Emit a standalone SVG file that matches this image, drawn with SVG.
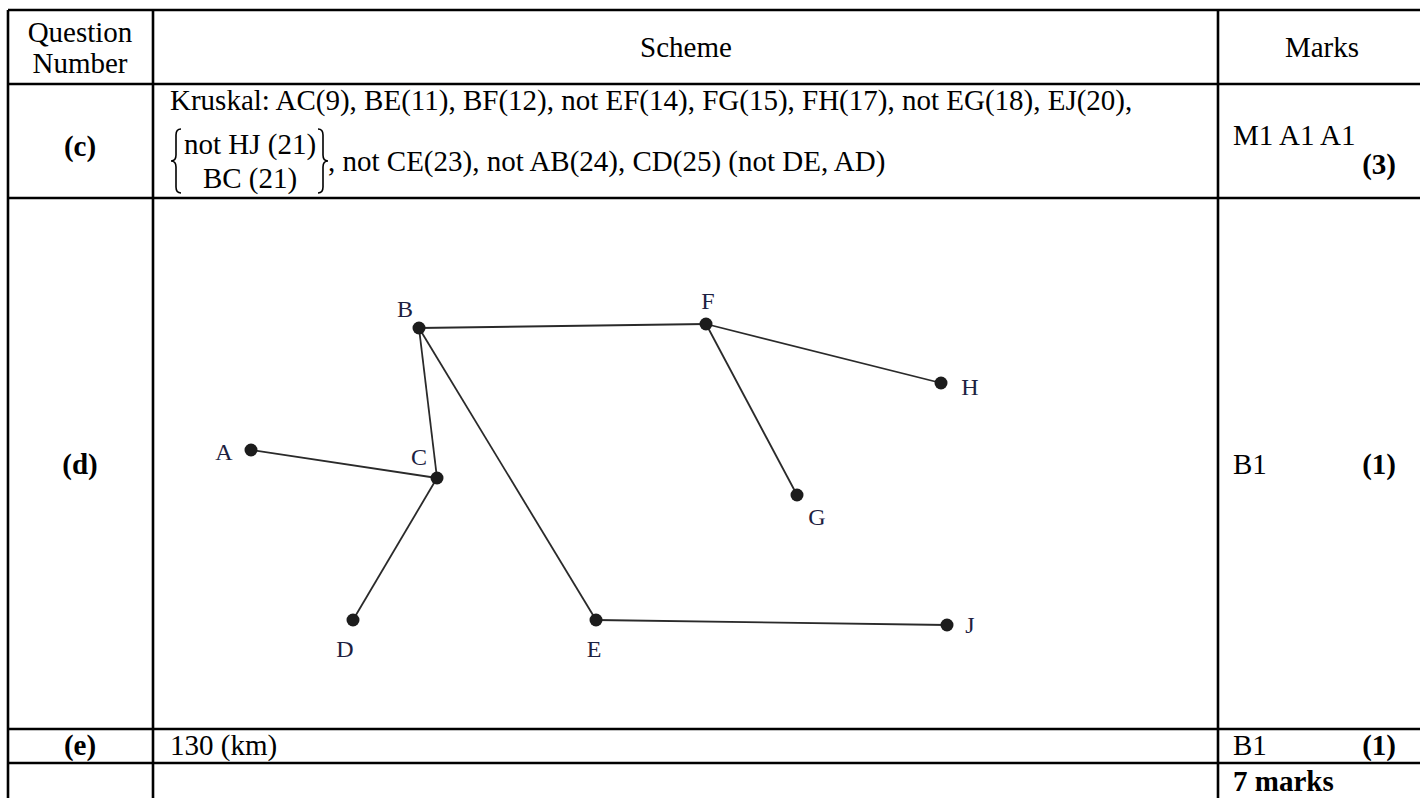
<svg xmlns="http://www.w3.org/2000/svg" width="1420" height="798" viewBox="0 0 1420 798">
<style>
.t{font-family:"Liberation Serif","Times New Roman",serif;font-size:29px;fill:#000}
.b{font-weight:bold}
.m{text-anchor:middle}
.r{text-anchor:end}
.grid{stroke:#000;stroke-width:2.6;fill:none}
.edge{stroke:#2a2a2a;stroke-width:1.8;fill:none}
.dot{fill:#1c1c1c}
.lbl{font-family:"Liberation Serif","Times New Roman",serif;font-size:24px;fill:#1d2140;text-anchor:middle}
.brace{stroke:#000;stroke-width:1.6;fill:none}
</style>
<rect width="1420" height="798" fill="#fff"/>
<g id="table">
<line class="grid" x1="8" y1="10" x2="1420" y2="10"/>
<line class="grid" x1="8" y1="84" x2="1420" y2="84"/>
<line class="grid" x1="8" y1="198" x2="1420" y2="198"/>
<line class="grid" x1="8" y1="729" x2="1420" y2="729"/>
<line class="grid" x1="8" y1="763" x2="1420" y2="763"/>
<line class="grid" x1="8" y1="10" x2="8" y2="798"/>
<line class="grid" x1="153" y1="10" x2="153" y2="798"/>
<line class="grid" x1="1218" y1="10" x2="1218" y2="798"/>
</g>
<g id="header">
<text class="t m" x="80" y="42">Question</text>
<text class="t m" x="80" y="73">Number</text>
<text class="t m" x="686" y="57">Scheme</text>
<text class="t m" x="1322" y="57">Marks</text>
</g>
<g id="row-c">
<text class="t b m" x="80" y="156">(c)</text>
<text class="t" x="170" y="110">Kruskal: AC(9), BE(11), BF(12), not EF(14), FG(15), FH(17), not EG(18), EJ(20),</text>
<path class="brace" d="M181,129 Q176,129 176,135 L176,155 Q176,161 171,161 Q176,161 176,167 L176,187 Q176,193 181,193"/>
<text class="t" x="184" y="154">not HJ (21)</text>
<text class="t m" x="250" y="188">BC (21)</text>
<path class="brace" d="M318,129 Q323,129 323,135 L323,155 Q323,161 328,161 Q323,161 323,167 L323,187 Q323,193 318,193"/>
<text class="t" x="328" y="171">, not CE(23), not AB(24), CD(25) (not DE, AD)</text>
<text class="t" x="1233" y="145">M1 A1 A1</text>
<text class="t b r" x="1396" y="174">(3)</text>
</g>
<g id="row-d">
<text class="t b m" x="80" y="474">(d)</text>
<text class="t" x="1233" y="474">B1</text>
<text class="t b r" x="1396" y="474">(1)</text>
</g>
<g id="connectors">
<line class="edge" x1="419" y1="328" x2="706" y2="324"/>
<line class="edge" x1="706" y1="324" x2="941" y2="383"/>
<line class="edge" x1="706" y1="324" x2="797" y2="495"/>
<line class="edge" x1="419" y1="328" x2="437" y2="478"/>
<line class="edge" x1="419" y1="328" x2="596" y2="620"/>
<line class="edge" x1="251" y1="450" x2="437" y2="478"/>
<line class="edge" x1="437" y1="478" x2="353" y2="620"/>
<line class="edge" x1="596" y1="620" x2="947" y2="625"/>
</g>
<g id="node-A"><circle class="dot" cx="251" cy="450" r="6.5"/><text class="lbl" x="224" y="460">A</text></g>
<g id="node-B"><circle class="dot" cx="419" cy="328" r="6.5"/><text class="lbl" x="405" y="317">B</text></g>
<g id="node-C"><circle class="dot" cx="437" cy="478" r="6.5"/><text class="lbl" x="419" y="465">C</text></g>
<g id="node-D"><circle class="dot" cx="353" cy="620" r="6.5"/><text class="lbl" x="345" y="657">D</text></g>
<g id="node-E"><circle class="dot" cx="596" cy="620" r="6.5"/><text class="lbl" x="594" y="657">E</text></g>
<g id="node-F"><circle class="dot" cx="706" cy="324" r="6.5"/><text class="lbl" x="708" y="309">F</text></g>
<g id="node-G"><circle class="dot" cx="797" cy="495" r="6.5"/><text class="lbl" x="817" y="525">G</text></g>
<g id="node-H"><circle class="dot" cx="941" cy="383" r="6.5"/><text class="lbl" x="970" y="395">H</text></g>
<g id="node-J"><circle class="dot" cx="947" cy="625" r="6.5"/><text class="lbl" x="970" y="633">J</text></g>
<g id="row-e">
<text class="t b m" x="80" y="755">(e)</text>
<text class="t" x="170" y="755">130 (km)</text>
<text class="t" x="1233" y="755">B1</text>
<text class="t b r" x="1396" y="755">(1)</text>
</g>
<g id="total">
<text class="t b" x="1233" y="791">7 marks</text>
</g>
</svg>
